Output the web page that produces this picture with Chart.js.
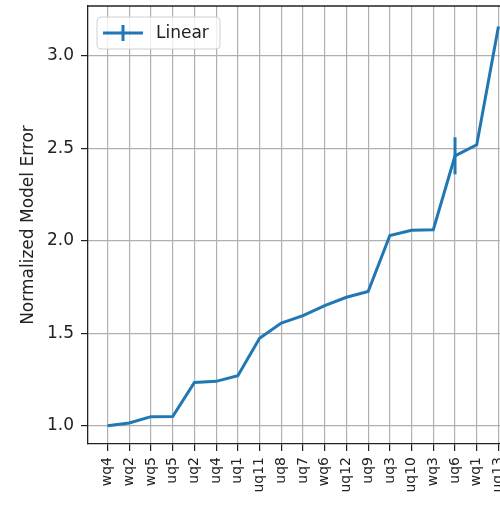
<!DOCTYPE html>
<html>
<head>
<meta charset="utf-8">
<script src="https://cdn.jsdelivr.net/npm/chart.js@4/dist/chart.umd.min.js"></script>
<style>
    html, body { margin: 0; padding: 0; background: #fff; overflow: hidden; }
</style>
</head>
<body>
<canvas id="chart" width="520" height="506"></canvas>
<script>
// Data
const categories = ['wq4', 'wq2', 'wq5', 'uq5', 'uq2', 'uq4', 'uq1', 'uq11', 'uq8', 'uq7',
    'wq6', 'uq12', 'uq9', 'uq3', 'uq10', 'wq3', 'uq6', 'wq1', 'uq13'];
const linearError = [1.00, 1.015, 1.049, 1.05, 1.234, 1.24, 1.27, 1.473, 1.555, 1.595,
    1.65, 1.695, 1.726, 2.029, 2.057, 2.06, 2.46, 2.52, 3.16];
const linearSpread = [0, 0, 0, 0, 0, 0, 0, 0, 0, 0, 0, 0, 0, 0, 0, 0, 0.1, 0, 0];
const yTickValues = [1.0, 1.5, 2.0, 2.5, 3.0];
const seriesLabel = 'Linear';
const yTitle = 'Normalized Model Error';

const LINE_COLOR = '#1f77b4';
const TEXT_COLOR = '#222';
const FONT = 'DejaVu Sans';

// Vertical error bars drawn through the y scale
const errorBarPlugin = {
    id: 'errorBars',
    afterDatasetsDraw(chart) {
        const meta = chart.getDatasetMeta(0);
        const yScale = chart.scales.y;
        const ctx = chart.ctx;
        ctx.save();
        ctx.strokeStyle = LINE_COLOR;
        ctx.lineWidth = 3;
        meta.data.forEach((pt, i) => {
            const e = linearSpread[i];
            if (!e) return;
            const v = linearError[i];
            ctx.beginPath();
            ctx.moveTo(pt.x, yScale.getPixelForValue(v - e));
            ctx.lineTo(pt.x, yScale.getPixelForValue(v + e));
            ctx.stroke();
        });
        ctx.restore();
    }
};

// Top spine and the boxed legend in the upper left corner
const framePlugin = {
    id: 'frame',
    afterDraw(chart) {
        const { ctx, chartArea } = chart;
        ctx.save();
        ctx.strokeStyle = '#222';
        ctx.lineWidth = 1.3;
        ctx.beginPath();
        ctx.moveTo(chartArea.left, chartArea.top);
        ctx.lineTo(chartArea.right, chartArea.top);
        ctx.stroke();

        // legend box
        const bx = chartArea.left + 9, by = chartArea.top + 11, bw = 123, bh = 32, r = 4;
        ctx.beginPath();
        ctx.roundRect(bx, by, bw, bh, r);
        ctx.fillStyle = 'rgba(255,255,255,0.8)';
        ctx.fill();
        ctx.strokeStyle = '#d0d0d0';
        ctx.lineWidth = 1;
        ctx.stroke();

        const cy = by + bh / 2;
        ctx.strokeStyle = LINE_COLOR;
        ctx.lineWidth = 3;
        ctx.beginPath();
        ctx.moveTo(bx + 6, cy);
        ctx.lineTo(bx + 46, cy);
        ctx.moveTo(bx + 26, cy - 8);
        ctx.lineTo(bx + 26, cy + 8);
        ctx.stroke();

        ctx.fillStyle = TEXT_COLOR;
        ctx.font = '17px "' + FONT + '"';
        ctx.textBaseline = 'middle';
        ctx.textAlign = 'left';
        ctx.fillText(seriesLabel, bx + 59, cy + 1);
        ctx.restore();
    }
};

const ctx = document.getElementById('chart').getContext('2d');
const chart = new Chart(ctx, {
    type: 'line',
    data: {
        datasets: [{
            label: seriesLabel,
            data: linearError.map((v, i) => ({ x: i, y: v })),
            borderColor: LINE_COLOR,
            backgroundColor: LINE_COLOR,
            borderWidth: 3,
            pointRadius: 0,
            tension: 0,
            fill: false
        }]
    },
    options: {
        responsive: false,
        animation: false,
        layout: { padding: { top: 6, right: 2, left: 0, bottom: 0 } },
        plugins: {
            legend: { display: false },
            tooltip: { enabled: false }
        },
        scales: {
            x: {
                type: 'linear',
                min: -0.9,
                max: 18.9,
                afterBuildTicks: (scale) => {
                    scale.ticks = categories.map((c, i) => ({ value: i }));
                },
                afterFit: (scale) => {
                    scale.height = 62;
                    scale.paddingLeft = 0;
                    scale.paddingRight = 0;
                },
                ticks: {
                    autoSkip: false,
                    minRotation: 90,
                    maxRotation: 90,
                    padding: 6,
                    color: TEXT_COLOR,
                    font: { family: FONT, size: 14 },
                    callback: (value) => categories[value]
                },
                grid: {
                    color: '#b0b0b0',
                    lineWidth: 1.2,
                    tickColor: '#222',
                    tickLength: 7
                },
                border: { display: true, color: '#222', width: 1.3 }
            },
            y: {
                min: 0.901,
                max: 3.2705,
                afterBuildTicks: (scale) => {
                    scale.ticks = yTickValues.map(v => ({ value: v }));
                },
                afterFit: (scale) => {
                    scale.width = 88;
                    scale.paddingTop = 0;
                    scale.paddingBottom = 0;
                },
                ticks: {
                    padding: 7,
                    color: TEXT_COLOR,
                    font: { family: FONT, size: 17 },
                    callback: (value) => value.toFixed(1)
                },
                grid: {
                    color: '#b0b0b0',
                    lineWidth: 1.2,
                    tickColor: '#222',
                    tickLength: 7
                },
                border: { display: true, color: '#222', width: 1.3 },
                title: {
                    display: true,
                    text: yTitle,
                    color: TEXT_COLOR,
                    font: { family: FONT, size: 17 },
                    padding: { top: 18, bottom: 0 }
                }
            }
        }
    },
    plugins: [errorBarPlugin, framePlugin]
});
</script>
</body>
</html>
